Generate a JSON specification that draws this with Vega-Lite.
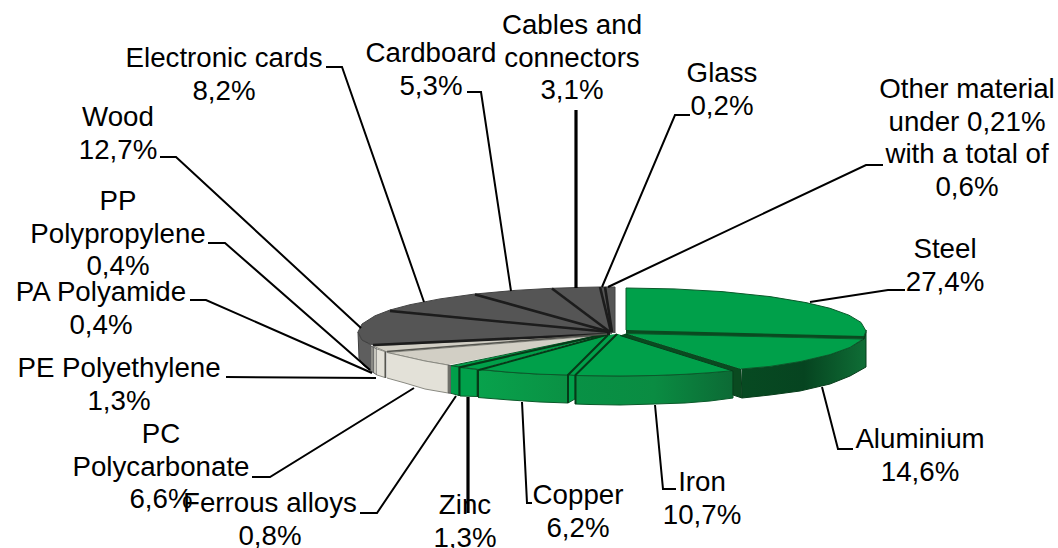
{"$schema":"https://vega.github.io/schema/vega-lite/v6.json","autosize":{"type":"none"},"width":1058,"height":548,"padding":0,"background":"white","view":{"stroke":null},
"resolve":{"scale":{"stroke":"independent","fill":"independent","strokeWidth":"independent"}},
"datasets":{
"sides":[
{"piece":"Aluminium side","n":1,"x":742,"y":369},{"piece":"Aluminium side","n":2,"x":770,"y":366.4},{"piece":"Aluminium side","n":3,"x":800,"y":361.6},{"piece":"Aluminium side","n":4,"x":830,"y":354.6},{"piece":"Aluminium side","n":5,"x":850,"y":347.4},{"piece":"Aluminium side","n":6,"x":864,"y":339},{"piece":"Aluminium side","n":7,"x":866,"y":330},{"piece":"Aluminium side","n":8,"x":866,"y":367},{"piece":"Aluminium side","n":9,"x":850,"y":376},{"piece":"Aluminium side","n":10,"x":830,"y":384},{"piece":"Aluminium side","n":11,"x":800,"y":391},{"piece":"Aluminium side","n":12,"x":770,"y":395},{"piece":"Aluminium side","n":13,"x":742,"y":398},
{"piece":"Iron side","n":1,"x":575,"y":375.5},{"piece":"Iron side","n":2,"x":590,"y":375.7},{"piece":"Iron side","n":3,"x":620,"y":376},{"piece":"Iron side","n":4,"x":655,"y":375.5},{"piece":"Iron side","n":5,"x":685,"y":374.3},{"piece":"Iron side","n":6,"x":710,"y":372.7},{"piece":"Iron side","n":7,"x":733,"y":370.7},{"piece":"Iron side","n":8,"x":733,"y":398},{"piece":"Iron side","n":9,"x":710,"y":401},{"piece":"Iron side","n":10,"x":685,"y":403},{"piece":"Iron side","n":11,"x":655,"y":404},{"piece":"Iron side","n":12,"x":620,"y":405},{"piece":"Iron side","n":13,"x":590,"y":404.5},{"piece":"Iron side","n":14,"x":575,"y":404},
{"piece":"Copper side","n":1,"x":478,"y":369.5},{"piece":"Copper side","n":2,"x":510,"y":372.3},{"piece":"Copper side","n":3,"x":540,"y":374.2},{"piece":"Copper side","n":4,"x":568,"y":375},{"piece":"Copper side","n":5,"x":568,"y":403},{"piece":"Copper side","n":6,"x":540,"y":402},{"piece":"Copper side","n":7,"x":510,"y":400},{"piece":"Copper side","n":8,"x":478,"y":397.5}
],
"faces":[
{"piece":"Wood side","kind":"dark side","n":1,"x":371,"y":345},{"piece":"Wood side","kind":"dark side","n":2,"x":362,"y":340},{"piece":"Wood side","kind":"dark side","n":3,"x":358,"y":332},{"piece":"Wood side","kind":"dark side","n":4,"x":359,"y":358},{"piece":"Wood side","kind":"dark side","n":5,"x":363,"y":365},{"piece":"Wood side","kind":"dark side","n":6,"x":372,"y":372},
{"piece":"Wood","kind":"dark top","n":1,"x":612,"y":333},{"piece":"Wood","kind":"dark top","n":2,"x":373,"y":345},{"piece":"Wood","kind":"dark top","n":3,"x":362,"y":340},{"piece":"Wood","kind":"dark top","n":4,"x":358,"y":332},{"piece":"Wood","kind":"dark top","n":5,"x":362,"y":324},{"piece":"Wood","kind":"dark top","n":6,"x":375,"y":315.8},{"piece":"Wood","kind":"dark top","n":7,"x":390,"y":310},
{"piece":"Electronic cards","kind":"dark top","n":1,"x":612,"y":333},{"piece":"Electronic cards","kind":"dark top","n":2,"x":390,"y":310},{"piece":"Electronic cards","kind":"dark top","n":3,"x":410,"y":304.7},{"piece":"Electronic cards","kind":"dark top","n":4,"x":440,"y":298.9},{"piece":"Electronic cards","kind":"dark top","n":5,"x":475,"y":294},
{"piece":"Cardboard","kind":"dark top","n":1,"x":612,"y":333},{"piece":"Cardboard","kind":"dark top","n":2,"x":475,"y":294},{"piece":"Cardboard","kind":"dark top","n":3,"x":515,"y":290.4},{"piece":"Cardboard","kind":"dark top","n":4,"x":552,"y":288.3},
{"piece":"Cables","kind":"dark top","n":1,"x":612,"y":333},{"piece":"Cables","kind":"dark top","n":2,"x":552,"y":288.3},{"piece":"Cables","kind":"dark top","n":3,"x":580,"y":287.4},{"piece":"Cables","kind":"dark top","n":4,"x":600,"y":287},
{"piece":"Glass","kind":"dark top","n":1,"x":612,"y":333},{"piece":"Glass","kind":"dark top","n":2,"x":600,"y":287},{"piece":"Glass","kind":"dark top","n":3,"x":605,"y":287},
{"piece":"Other","kind":"dark top","n":1,"x":612,"y":333},{"piece":"Other","kind":"dark top","n":2,"x":605,"y":287},{"piece":"Other","kind":"dark top","n":3,"x":615,"y":287},{"piece":"Other","kind":"dark top","n":4,"x":615,"y":333},
{"piece":"PP side","kind":"grey side","n":1,"x":371,"y":346},{"piece":"PP side","kind":"grey side","n":2,"x":374,"y":347.5},{"piece":"PP side","kind":"grey side","n":3,"x":374,"y":373},{"piece":"PP side","kind":"grey side","n":4,"x":371,"y":371},
{"piece":"PA side","kind":"light grey side","n":1,"x":374,"y":347.5},{"piece":"PA side","kind":"light grey side","n":2,"x":377,"y":349},{"piece":"PA side","kind":"light grey side","n":3,"x":377,"y":375},{"piece":"PA side","kind":"light grey side","n":4,"x":374,"y":373},
{"piece":"PE top","kind":"pale top","n":1,"x":607,"y":334},{"piece":"PE top","kind":"pale top","n":2,"x":373,"y":346},{"piece":"PE top","kind":"pale top","n":3,"x":387,"y":352},
{"piece":"PE side","kind":"pale side","n":1,"x":377,"y":349},{"piece":"PE side","kind":"pale side","n":2,"x":385,"y":351.5},{"piece":"PE side","kind":"pale side","n":3,"x":385,"y":377.5},{"piece":"PE side","kind":"pale side","n":4,"x":377,"y":375},
{"piece":"PC top","kind":"pale top","n":1,"x":607,"y":335},{"piece":"PC top","kind":"pale top","n":2,"x":387,"y":352.5},{"piece":"PC top","kind":"pale top","n":3,"x":405,"y":356.5},{"piece":"PC top","kind":"pale top","n":4,"x":425,"y":361},{"piece":"PC top","kind":"pale top","n":5,"x":448,"y":365},
{"piece":"PC side","kind":"pale side","n":1,"x":387,"y":352.5},{"piece":"PC side","kind":"pale side","n":2,"x":405,"y":356.5},{"piece":"PC side","kind":"pale side","n":3,"x":425,"y":361},{"piece":"PC side","kind":"pale side","n":4,"x":448,"y":365},{"piece":"PC side","kind":"pale side","n":5,"x":448,"y":393},{"piece":"PC side","kind":"pale side","n":6,"x":425,"y":389},{"piece":"PC side","kind":"pale side","n":7,"x":405,"y":383},{"piece":"PC side","kind":"pale side","n":8,"x":387,"y":378},
{"piece":"PC wall","kind":"grey wall","n":1,"x":448,"y":365},{"piece":"PC wall","kind":"grey wall","n":2,"x":451,"y":365.7},{"piece":"PC wall","kind":"grey wall","n":3,"x":451,"y":393.3},{"piece":"PC wall","kind":"grey wall","n":4,"x":448,"y":393},
{"piece":"Ferrous top","kind":"green top","n":1,"x":606,"y":334},{"piece":"Ferrous top","kind":"green top","n":2,"x":451,"y":365.7},{"piece":"Ferrous top","kind":"green top","n":3,"x":459,"y":367},
{"piece":"Ferrous side","kind":"green top","n":1,"x":451,"y":365.7},{"piece":"Ferrous side","kind":"green top","n":2,"x":459,"y":367},{"piece":"Ferrous side","kind":"green top","n":3,"x":459,"y":395.5},{"piece":"Ferrous side","kind":"green top","n":4,"x":451,"y":393.3},
{"piece":"Zinc top","kind":"green top","n":1,"x":606,"y":334},{"piece":"Zinc top","kind":"green top","n":2,"x":459,"y":367},{"piece":"Zinc top","kind":"green top","n":3,"x":479,"y":369.5},
{"piece":"Zinc side","kind":"green top","n":1,"x":460,"y":367.5},{"piece":"Zinc side","kind":"green top","n":2,"x":477,"y":369.5},{"piece":"Zinc side","kind":"green top","n":3,"x":477,"y":396.5},{"piece":"Zinc side","kind":"green top","n":4,"x":460,"y":396},
{"piece":"Copper top","kind":"green top","n":1,"x":607,"y":335},{"piece":"Copper top","kind":"green top","n":2,"x":480,"y":369.5},{"piece":"Copper top","kind":"green top","n":3,"x":510,"y":372.3},{"piece":"Copper top","kind":"green top","n":4,"x":540,"y":374.2},{"piece":"Copper top","kind":"green top","n":5,"x":568,"y":375},
{"piece":"Iron strip","kind":"green top","n":1,"x":607,"y":335},{"piece":"Iron strip","kind":"green top","n":2,"x":568,"y":375},{"piece":"Iron strip","kind":"green top","n":3,"x":575,"y":375.5},{"piece":"Iron strip","kind":"green top","n":4,"x":617,"y":334},
{"piece":"Iron strip front","kind":"green top","n":1,"x":568,"y":375},{"piece":"Iron strip front","kind":"green top","n":2,"x":575,"y":375.5},{"piece":"Iron strip front","kind":"green top","n":3,"x":575,"y":399},{"piece":"Iron strip front","kind":"green top","n":4,"x":568,"y":403},
{"piece":"Iron top","kind":"green top","n":1,"x":618,"y":334},{"piece":"Iron top","kind":"green top","n":2,"x":575,"y":375.5},{"piece":"Iron top","kind":"green top","n":3,"x":590,"y":375.7},{"piece":"Iron top","kind":"green top","n":4,"x":620,"y":376},{"piece":"Iron top","kind":"green top","n":5,"x":655,"y":375.5},{"piece":"Iron top","kind":"green top","n":6,"x":685,"y":374.3},{"piece":"Iron top","kind":"green top","n":7,"x":710,"y":372.7},{"piece":"Iron top","kind":"green top","n":8,"x":733,"y":370.7},
{"piece":"Aluminium wall","kind":"green wall","n":1,"x":626,"y":333.5},{"piece":"Aluminium wall","kind":"green wall","n":2,"x":741,"y":369},{"piece":"Aluminium wall","kind":"green wall","n":3,"x":742,"y":398},{"piece":"Aluminium wall","kind":"green wall","n":4,"x":733,"y":395},{"piece":"Aluminium wall","kind":"green wall","n":5,"x":733,"y":371},{"piece":"Aluminium wall","kind":"green wall","n":6,"x":620,"y":335.5},
{"piece":"Steel wall","kind":"green wall","n":1,"x":626,"y":330},{"piece":"Steel wall","kind":"green wall","n":2,"x":866,"y":332},{"piece":"Steel wall","kind":"green wall","n":3,"x":864,"y":339},{"piece":"Steel wall","kind":"green wall","n":4,"x":626,"y":334},
{"piece":"Aluminium top","kind":"green top","n":1,"x":626,"y":333.5},{"piece":"Aluminium top","kind":"green top","n":2,"x":863,"y":339},{"piece":"Aluminium top","kind":"green top","n":3,"x":850,"y":347.4},{"piece":"Aluminium top","kind":"green top","n":4,"x":830,"y":354.6},{"piece":"Aluminium top","kind":"green top","n":5,"x":800,"y":361.6},{"piece":"Aluminium top","kind":"green top","n":6,"x":770,"y":366.4},{"piece":"Aluminium top","kind":"green top","n":7,"x":741,"y":369},
{"piece":"Steel top","kind":"green top","n":1,"x":626,"y":330},{"piece":"Steel top","kind":"green top","n":2,"x":626,"y":288},{"piece":"Steel top","kind":"green top","n":3,"x":674,"y":288.9},{"piece":"Steel top","kind":"green top","n":4,"x":722,"y":291.6},{"piece":"Steel top","kind":"green top","n":5,"x":770,"y":296.6},{"piece":"Steel top","kind":"green top","n":6,"x":806,"y":302.6},{"piece":"Steel top","kind":"green top","n":7,"x":830,"y":308.3},{"piece":"Steel top","kind":"green top","n":8,"x":849,"y":315.2},{"piece":"Steel top","kind":"green top","n":9,"x":861,"y":322.4},{"piece":"Steel top","kind":"green top","n":10,"x":866,"y":331},{"piece":"Steel top","kind":"green top","n":11,"x":864,"y":336}
],
"lines":[
{"line":"sep1","kind":"separator","n":1,"x":390,"y":311},{"line":"sep1","kind":"separator","n":2,"x":610,"y":332},
{"line":"sep2","kind":"separator","n":1,"x":475,"y":294.5},{"line":"sep2","kind":"separator","n":2,"x":610,"y":332},
{"line":"sep3","kind":"separator","n":1,"x":552,"y":288.5},{"line":"sep3","kind":"separator","n":2,"x":610,"y":332},
{"line":"sep4","kind":"separator","n":1,"x":600,"y":287},{"line":"sep4","kind":"separator","n":2,"x":611,"y":332},
{"line":"sep5","kind":"separator","n":1,"x":605,"y":287},{"line":"sep5","kind":"separator","n":2,"x":612,"y":332},
{"line":"sep6","kind":"separator","n":1,"x":373,"y":345},{"line":"sep6","kind":"separator","n":2,"x":610,"y":334},
{"line":"sep7","kind":"green edge","n":1,"x":479,"y":370},{"line":"sep7","kind":"green edge","n":2,"x":606,"y":335},
{"line":"sep8","kind":"green edge","n":1,"x":459,"y":367.5},{"line":"sep8","kind":"green edge","n":2,"x":606,"y":334},
{"line":"wall1","kind":"green edge","n":1,"x":478,"y":369.5},{"line":"wall1","kind":"green edge","n":2,"x":478,"y":397},
{"line":"wall2","kind":"green edge","n":1,"x":459.5,"y":367},{"line":"wall2","kind":"green edge","n":2,"x":459.5,"y":396},
{"line":"strip1","kind":"green edge","n":1,"x":608,"y":335},{"line":"strip1","kind":"green edge","n":2,"x":568,"y":375},{"line":"strip1","kind":"green edge","n":3,"x":568,"y":403},
{"line":"strip2","kind":"green edge","n":1,"x":617,"y":334},{"line":"strip2","kind":"green edge","n":2,"x":575.5,"y":375},{"line":"strip2","kind":"green edge","n":3,"x":575.5,"y":404},
{"line":"pale1","kind":"grey edge","n":1,"x":385.5,"y":351.5},{"line":"pale1","kind":"grey edge","n":2,"x":385.5,"y":378},
{"line":"pale2","kind":"grey edge","n":1,"x":387,"y":351.5},{"line":"pale2","kind":"grey edge","n":2,"x":607,"y":334},
{"line":"Steel","kind":"leader","n":1,"x":810,"y":302},{"line":"Steel","kind":"leader","n":2,"x":888,"y":290},{"line":"Steel","kind":"leader","n":3,"x":905,"y":290},
{"line":"Aluminium","kind":"leader","n":1,"x":822,"y":387},{"line":"Aluminium","kind":"leader","n":2,"x":838,"y":449},{"line":"Aluminium","kind":"leader","n":3,"x":853,"y":449},
{"line":"Iron","kind":"leader","n":1,"x":655,"y":405},{"line":"Iron","kind":"leader","n":2,"x":663,"y":489},{"line":"Iron","kind":"leader","n":3,"x":676,"y":489},
{"line":"Copper","kind":"leader","n":1,"x":522,"y":402},{"line":"Copper","kind":"leader","n":2,"x":527,"y":503},{"line":"Copper","kind":"leader","n":3,"x":532,"y":503},
{"line":"Zinc","kind":"thick leader","n":1,"x":468,"y":397},{"line":"Zinc","kind":"thick leader","n":2,"x":468,"y":513},
{"line":"Ferrous","kind":"leader","n":1,"x":456,"y":396},{"line":"Ferrous","kind":"leader","n":2,"x":377,"y":513},{"line":"Ferrous","kind":"leader","n":3,"x":360,"y":513},
{"line":"PC","kind":"leader","n":1,"x":414,"y":388},{"line":"PC","kind":"leader","n":2,"x":270,"y":477},{"line":"PC","kind":"leader","n":3,"x":252,"y":477},
{"line":"PE","kind":"leader","n":1,"x":376,"y":378},{"line":"PE","kind":"leader","n":2,"x":226,"y":377},
{"line":"PA","kind":"leader","n":1,"x":372,"y":373},{"line":"PA","kind":"leader","n":2,"x":206,"y":300},{"line":"PA","kind":"leader","n":3,"x":190,"y":300},
{"line":"PP","kind":"leader","n":1,"x":370,"y":370},{"line":"PP","kind":"leader","n":2,"x":225,"y":243},{"line":"PP","kind":"leader","n":3,"x":208,"y":243},
{"line":"Wood","kind":"leader","n":1,"x":361,"y":328},{"line":"Wood","kind":"leader","n":2,"x":176,"y":157},{"line":"Wood","kind":"leader","n":3,"x":160,"y":157},
{"line":"Electronic","kind":"leader","n":1,"x":424,"y":302},{"line":"Electronic","kind":"leader","n":2,"x":342,"y":67},{"line":"Electronic","kind":"leader","n":3,"x":326,"y":67},
{"line":"Cardboard","kind":"leader","n":1,"x":511,"y":291},{"line":"Cardboard","kind":"leader","n":2,"x":481,"y":92},{"line":"Cardboard","kind":"leader","n":3,"x":467,"y":92},
{"line":"Cables","kind":"thick leader","n":1,"x":576,"y":288},{"line":"Cables","kind":"thick leader","n":2,"x":576,"y":110},
{"line":"Glass","kind":"leader","n":1,"x":602,"y":287},{"line":"Glass","kind":"leader","n":2,"x":675,"y":115},{"line":"Glass","kind":"leader","n":3,"x":690,"y":115},
{"line":"Other","kind":"leader","n":1,"x":608,"y":287},{"line":"Other","kind":"leader","n":2,"x":866,"y":165},{"line":"Other","kind":"leader","n":3,"x":883,"y":165}
],
"labels":[
{"label":"Steel\n27,4%","x":945,"y":250},{"label":"Aluminium\n14,6%","x":920,"y":440},{"label":"Iron\n10,7%","x":702,"y":483},{"label":"Copper\n6,2%","x":578,"y":496},{"label":"Zinc\n1,3%","x":465,"y":506},{"label":"Ferrous alloys\n0,8%","x":270,"y":504},{"label":"PC\nPolycarbonate\n6,6%","x":161,"y":435},{"label":"PE Polyethylene\n1,3%","x":119,"y":369},{"label":"PA Polyamide\n0,4%","x":101,"y":293},{"label":"PP\nPolypropylene\n0,4%","x":118,"y":202},{"label":"Wood\n12,7%","x":118,"y":118},{"label":"Electronic cards\n8,2%","x":224,"y":59},{"label":"Cardboard\n5,3%","x":431,"y":54},{"label":"Cables and\nconnectors\n3,1%","x":572,"y":26},{"label":"Glass\n0,2%","x":722,"y":74},{"label":"Other material\nunder 0,21%\nwith a total of\n0,6%","x":967,"y":90}
]},
"encoding":{"x":{"field":"x","type":"quantitative","scale":{"domain":[0,1058]},"axis":null},"y":{"field":"y","type":"quantitative","scale":{"domain":[548,0]},"axis":null}},
"layer":[
{"data":{"name":"sides"},"transform":[{"filter":"datum.piece==='Aluminium side'"}],"mark":{"type":"line","interpolate":"linear","stroke":"#073d1b","strokeWidth":1,"fill":{"gradient":"linear","x1":0,"y1":0,"x2":1,"y2":0,"stops":[{"offset":0,"color":"#074a22"},{"offset":0.5,"color":"#064420"},{"offset":1,"color":"#0f6e36"}]}},"encoding":{"order":{"field":"n","type":"quantitative"}}},
{"data":{"name":"sides"},"transform":[{"filter":"datum.piece==='Iron side'"}],"mark":{"type":"line","interpolate":"linear","stroke":"#0a5a2a","strokeWidth":1,"fill":{"gradient":"linear","x1":0,"y1":0,"x2":1,"y2":0,"stops":[{"offset":0,"color":"#089145"},{"offset":0.5,"color":"#0a8c42"},{"offset":1,"color":"#0c6a35"}]}},"encoding":{"order":{"field":"n","type":"quantitative"}}},
{"data":{"name":"sides"},"transform":[{"filter":"datum.piece==='Copper side'"}],"mark":{"type":"line","interpolate":"linear","stroke":"#0a5a2a","strokeWidth":1,"fill":{"gradient":"linear","x1":0,"y1":0,"x2":1,"y2":0,"stops":[{"offset":0,"color":"#08a24c"},{"offset":1,"color":"#0a9144"}]}},"encoding":{"order":{"field":"n","type":"quantitative"}}},
{"data":{"name":"faces"},"mark":{"type":"line","interpolate":"linear","strokeWidth":1},"encoding":{"detail":{"field":"piece"},"order":{"field":"n","type":"quantitative"},
"fill":{"field":"kind","type":"nominal","legend":null,"scale":{"domain":["dark side","dark top","grey side","light grey side","pale top","pale side","grey wall","green top","green wall"],"range":["#5e5e5e","#555555","#8a8a85","#c5c4bb","#d2cfc5","#e3e1d8","#70706a","#00a04a","#0a4a20"]}},
"stroke":{"field":"kind","type":"nominal","legend":null,"scale":{"domain":["dark side","dark top","grey side","light grey side","pale top","pale side","grey wall","green top","green wall"],"range":["#3f3f3f","#444444","#555555","#666666","#8a8a82","#8a8a82","#555555","#0b5a2b","#073d1b"]}}}},
{"data":{"name":"lines"},"mark":{"type":"line","interpolate":"linear"},"encoding":{"detail":{"field":"line"},"order":{"field":"n","type":"quantitative"},
"stroke":{"field":"kind","type":"nominal","legend":null,"scale":{"domain":["separator","green edge","grey edge","leader","thick leader"],"range":["#1c1c1c","#063a18","#55554f","#000000","#000000"]}},
"strokeWidth":{"field":"kind","type":"nominal","legend":null,"scale":{"type":"ordinal","domain":["separator","green edge","grey edge","leader","thick leader"],"range":[2.6,2,1.6,2,3.2]}}}},
{"data":{"name":"labels"},"mark":{"type":"text","font":"Liberation Sans","fontSize":27.7,"align":"center","baseline":"middle","lineBreak":"\n","lineHeight":32.6,"color":"#000000"},"encoding":{"text":{"field":"label"}}}
]}
